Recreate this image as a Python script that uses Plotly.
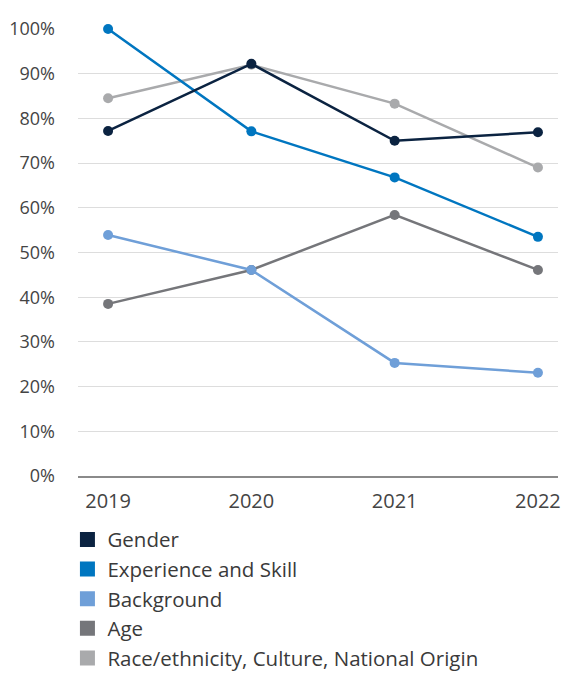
import plotly.graph_objects as go

years = ["2019", "2020", "2021", "2022"]
gender = [77.2, 92.2, 75.0, 76.9]
experience = [100.0, 77.1, 66.8, 53.5]
background = [53.9, 46.1, 25.3, 23.1]
age = [38.5, 46.1, 58.4, 46.1]
race = [84.5, 92.0, 83.3, 69.0]

names = ["Gender", "Experience and Skill", "Background", "Age",
         "Race/ethnicity, Culture, National Origin"]
series = [gender, experience, background, age, race]
colors = ["#0b2341", "#0076c0", "#6f9fd8", "#75767a", "#a9aaac"]

y_ticks = [0, 10, 20, 30, 40, 50, 60, 70, 80, 90, 100]
y_ticklabels = [f"{v}%" for v in y_ticks]

fig = go.Figure()
order = [4, 3, 2, 1, 0]
for i in order:
    fig.add_trace(go.Scatter(
        x=years, y=series[i], mode="lines+markers",
        line=dict(color=colors[i], width=2.5),
        marker=dict(color=colors[i], size=10),
        showlegend=False, hoverinfo="skip", cliponaxis=False))

for i, n in enumerate(names):
    fig.add_trace(go.Scatter(
        x=[None], y=[None], mode="markers", name=n,
        marker=dict(color=colors[i], size=15, symbol="square"),
        legendgroup=n, hoverinfo="skip"))

fig.update_layout(
    width=562, height=673,
    margin=dict(l=78, r=4, t=29, b=197, autoexpand=False),
    plot_bgcolor="white", paper_bgcolor="white",
    font=dict(family="Open Sans", color="#444444"),
    showlegend=True,
    legend=dict(
        orientation="v", xref="container", yref="container",
        x=0.12, y=0.228, xanchor="left", yanchor="top",
        font=dict(size=20.5, color="#3a3a3a"),
        tracegroupgap=0, bgcolor="rgba(0,0,0,0)"),
    xaxis=dict(
        type="category", range=[-0.21, 3.14],
        showgrid=False, showline=True, linecolor="#8a8a8a", linewidth=1.5,
        ticks="", tickfont=dict(size=20, color="#444444"), tickangle=0,
        ticklabelstandoff=6, zeroline=False),
    yaxis=dict(
        range=[0, 100], tickvals=y_ticks, ticktext=y_ticklabels,
        showgrid=True, gridcolor="#dddddd", gridwidth=1,
        zeroline=False, showline=False, ticks="",
        tickfont=dict(size=18, color="#444444"),
        ticklabelstandoff=22),
)

fig.write_html("out.html")
